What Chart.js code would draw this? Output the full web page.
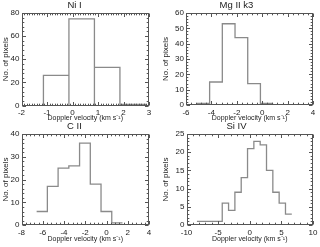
<!DOCTYPE html>
<html>
<head>
<meta charset="utf-8">
<script src="https://cdn.jsdelivr.net/npm/chart.js@4.4.1/dist/chart.umd.min.js"></script>
<style>
  body { margin: 0; background: #fff; }
  .panel { position: absolute; }
</style>
</head>
<body>
<div class="panel" style="left:0;top:0"><canvas id="c-ni" width="160" height="124"></canvas></div>
<div class="panel" style="left:160px;top:0"><canvas id="c-mg" width="160" height="124"></canvas></div>
<div class="panel" style="left:0;top:121px"><canvas id="c-c" width="160" height="124"></canvas></div>
<div class="panel" style="left:160px;top:121px"><canvas id="c-si" width="160" height="124"></canvas></div>
<script>
// histogram data (bin centres in km/s, counts)
var niCenters = [-0.64, 0.36, 1.36, 2.36];
var niCounts = [26, 75, 33, 1];

var mgCenters = [-4.64, -3.64, -2.64, -1.64, -0.64, 0.36];
var mgCounts = [1, 15, 53, 44, 14, 1];

var cCenters = [-6.07, -5.06, -4.05, -3.04, -2.03, -1.02, -0.01, 1.0];
var cCounts = [6, 17, 25, 26, 36, 18, 6, 1];

var siCenters = [-7.85, -6.85, -5.85, -4.85, -3.85, -2.85, -1.85, -0.85, 0.15, 1.15, 2.15, 3.15, 4.15, 5.15, 6.15];
var siCounts = [1, 1, 1, 1, 6, 4, 9, 13, 21, 23, 22, 15, 9, 6, 3];

// tick labels
var niXTicks = [-2, -1, 0, 1, 2, 3];
var niYTicks = [0, 20, 40, 60, 80];
var mgXTicks = [-6, -4, -2, 0, 2, 4];
var mgYTicks = [0, 10, 20, 30, 40, 50, 60];
var cXTicks = [-8, -6, -4, -2, 0, 2, 4];
var cYTicks = [0, 10, 20, 30, 40];
var siXTicks = [-10, -5, 0, 5, 10];
var siYTicks = [0, 5, 10, 15, 20, 25];

var FONT = "'Liberation Sans', Arial, sans-serif";
var TEXT = '#222';

// outline of histogram: bars drop to zero, steps don't
function histPoints(centers, counts, width, bars) {
    var pts = [];
    for (var i = 0; i < centers.length; i++) {
        var l = centers[i] - width / 2, r = centers[i] + width / 2;
        if (bars) pts.push({x: l, y: 0});
        pts.push({x: l, y: counts[i]});
        pts.push({x: r, y: counts[i]});
        if (bars) pts.push({x: r, y: 0});
    }
    return pts;
}

// box frame with inward ticks on all four sides (IDL look)
var framePlugin = {
    id: 'frame',
    afterDraw: function (chart, args, opts) {
        var ctx = chart.ctx, a = chart.chartArea;
        var xs = chart.scales.x, ys = chart.scales.y;
        ctx.save();
        ctx.strokeStyle = '#555';
        ctx.lineWidth = 1;
        var L = Math.round(a.left) + 0.5, R = Math.round(a.right) - 0.5;
        var T = Math.round(a.top) + 0.5, B = Math.round(a.bottom) - 0.5;
        ctx.strokeRect(L, T, R - L, B - T);
        ctx.beginPath();
        function xTicks(vals, len) {
            vals.forEach(function (v) {
                var p = Math.round(xs.getPixelForValue(v)) + 0.5;
                ctx.moveTo(p, B); ctx.lineTo(p, B - len);
                ctx.moveTo(p, T); ctx.lineTo(p, T + len);
            });
        }
        function yTicks(vals, len) {
            vals.forEach(function (v) {
                var p = Math.round(ys.getPixelForValue(v)) + 0.5;
                ctx.moveTo(L, p); ctx.lineTo(L + len, p);
                ctx.moveTo(R, p); ctx.lineTo(R - len, p);
            });
        }
        function minors(min, max, step) {
            var n = Math.round((max - min) / step), out = [];
            for (var i = 1; i < n; i++) out.push(min + i * step);
            return out;
        }
        xTicks(opts.xTicks, 3.5);
        yTicks(opts.yTicks, 3.5);
        xTicks(minors(xs.min, xs.max, opts.xMinor), 1.8);
        yTicks(minors(ys.min, ys.max, opts.yMinor), 1.8);
        ctx.stroke();
        ctx.restore();
    }
};

function makePanel(id, title, centers, counts, width, bars, xTicks, yTicks, xMinor, yMinor, geo) {
    var ctx = document.getElementById(id).getContext('2d');
    return new Chart(ctx, {
        type: 'scatter',
        data: {
            datasets: [{
                data: histPoints(centers, counts, width, bars),
                showLine: true,
                borderColor: '#8a8a8a',
                borderWidth: 1.3,
                pointRadius: 0,
                tension: 0
            }]
        },
        options: {
            responsive: false,
            animation: false,
            devicePixelRatio: 1,
            layout: {padding: {left: 0, right: geo.padRight, top: 0, bottom: 0}},
            plugins: {
                legend: {display: false},
                tooltip: {enabled: false},
                title: {
                    display: true,
                    text: title,
                    color: TEXT,
                    font: {family: FONT, size: 9.5, weight: 'normal', lineHeight: 1.2},
                    padding: {top: 0, bottom: 1.6}
                },
                frame: {xTicks: xTicks, yTicks: yTicks, xMinor: xMinor, yMinor: yMinor}
            },
            scales: {
                x: {
                    type: 'linear',
                    min: xTicks[0],
                    max: xTicks[xTicks.length - 1],
                    afterFit: function (s) { s.height = geo.xAxisHeight; },
                    afterBuildTicks: function (s) { s.ticks = xTicks.map(function (v) { return {value: v}; }); },
                    grid: {display: false, drawTicks: false},
                    border: {display: false},
                    ticks: {color: TEXT, font: {family: FONT, size: 8}, padding: 2.5, maxRotation: 0, autoSkip: false},
                    title: {
                        display: true,
                        text: 'Doppler velocity (km s\u207B\u00B9)',
                        color: TEXT,
                        font: {family: FONT, size: 7, lineHeight: 1.2},
                        padding: {top: 0, bottom: 1.8}
                    }
                },
                y: {
                    type: 'linear',
                    min: yTicks[0],
                    max: yTicks[yTicks.length - 1],
                    afterFit: function (s) { s.width = geo.yAxisWidth; },
                    afterBuildTicks: function (s) { s.ticks = yTicks.map(function (v) { return {value: v}; }); },
                    grid: {display: false, drawTicks: false},
                    border: {display: false},
                    ticks: {color: TEXT, font: {family: FONT, size: 8}, padding: 2, autoSkip: false},
                    title: {
                        display: true,
                        text: 'No. of pixels',
                        color: TEXT,
                        font: {family: FONT, size: 8, lineHeight: 1.2},
                        padding: {top: 1, bottom: 0}
                    }
                }
            }
        },
        plugins: [framePlugin]
    });
}

makePanel('c-ni', 'Ni I', niCenters, niCounts, 1, true, niXTicks, niYTicks, 0.1, 4,
    {yAxisWidth: 21.5, padRight: 11, xAxisHeight: 18.5});
makePanel('c-mg', 'Mg II k3', mgCenters, mgCounts, 1, false, mgXTicks, mgYTicks, 0.4, 2,
    {yAxisWidth: 26, padRight: 7, xAxisHeight: 19});
makePanel('c-c', 'C II', cCenters, cCounts, 1.01, false, cXTicks, cYTicks, 0.4, 2,
    {yAxisWidth: 21.5, padRight: 11, xAxisHeight: 19.8});
makePanel('c-si', 'Si IV', siCenters, siCounts, 1, false, siXTicks, siYTicks, 1, 1,
    {yAxisWidth: 26.5, padRight: 7, xAxisHeight: 20});
</script>
</body>
</html>
